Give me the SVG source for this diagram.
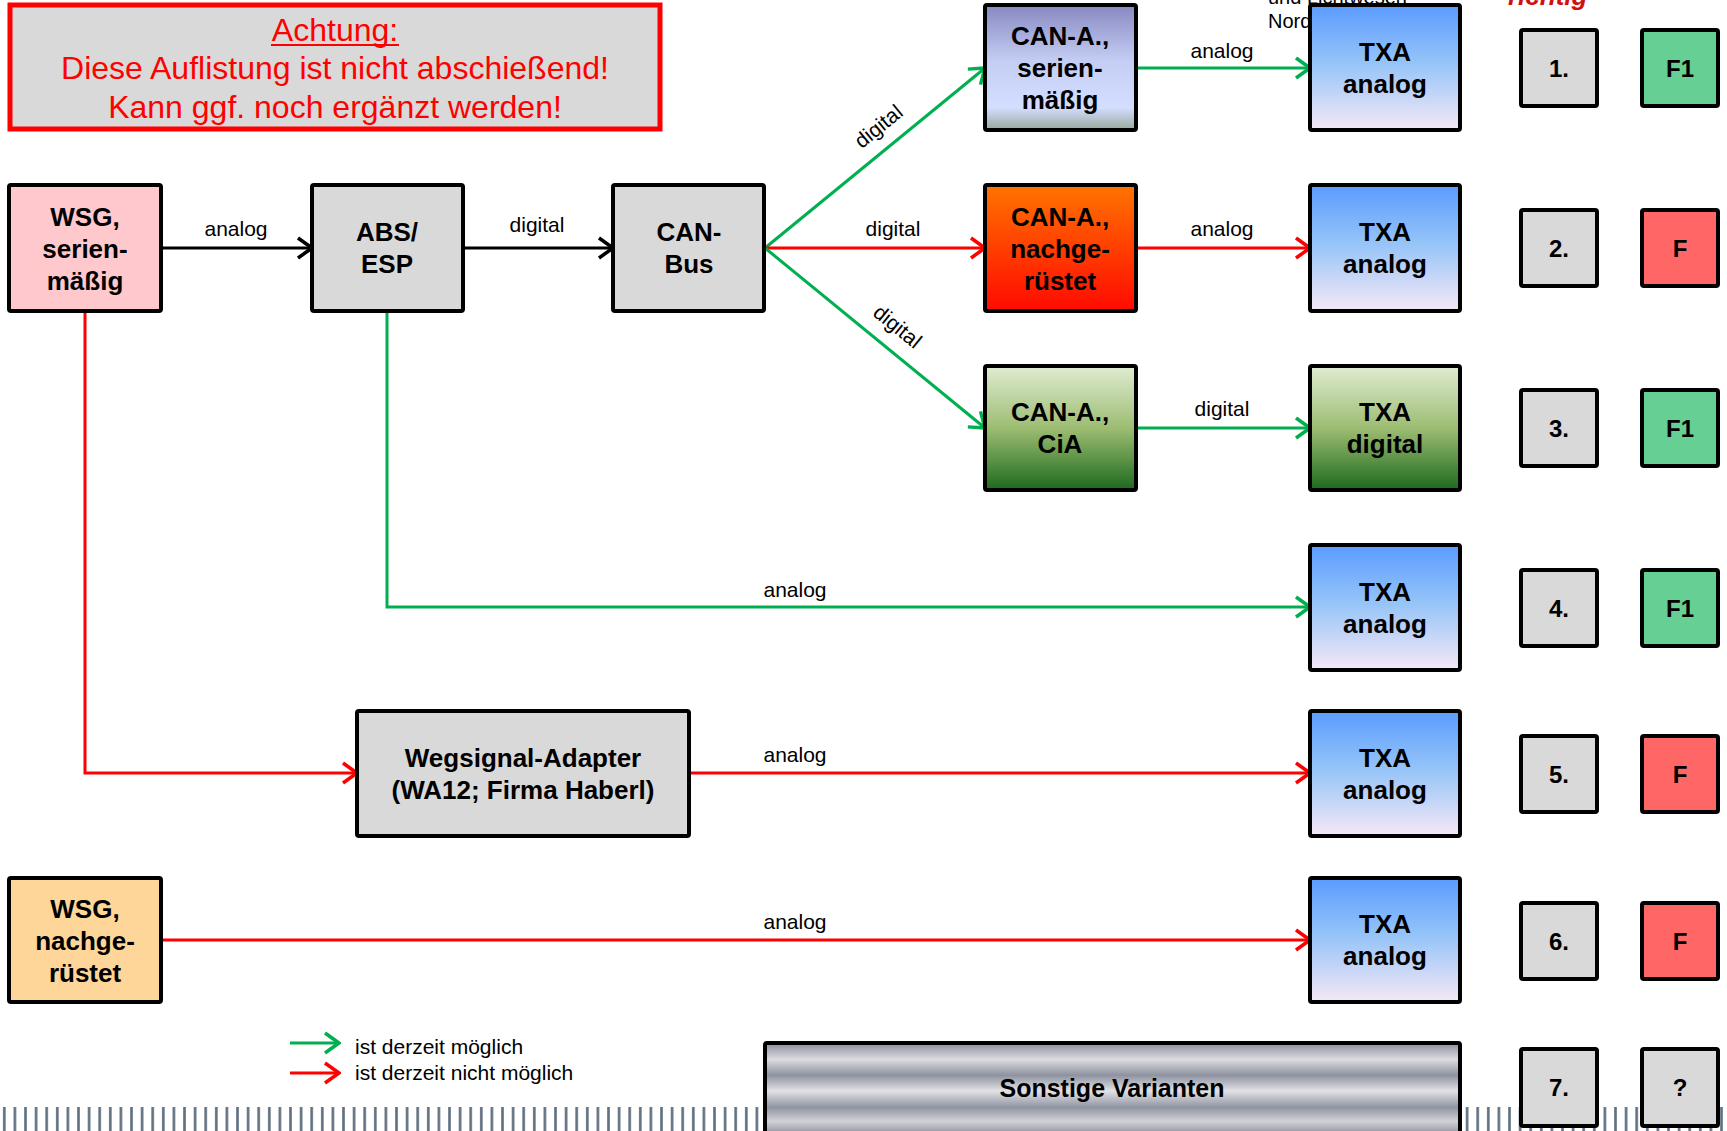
<svg xmlns="http://www.w3.org/2000/svg" width="1727" height="1131" viewBox="0 0 1727 1131">
<defs>
<style>
.box{stroke:#000;stroke-width:4}
.nt{font-family:"Liberation Sans",Arial,sans-serif;font-weight:bold;font-size:26px;text-anchor:middle;fill:#000}
.lbl{font-family:"Liberation Sans",Arial,sans-serif;font-size:21px;text-anchor:middle;fill:#000}
.leg{font-family:"Liberation Sans",Arial,sans-serif;font-size:21px;fill:#000}
.warn{font-family:"Liberation Sans",Arial,sans-serif;font-size:32px;text-anchor:middle;fill:#ff0000}
.g{stroke:#00b050;stroke-width:3;fill:none}
.r{stroke:#ff0000;stroke-width:3;fill:none}
.k{stroke:#000;stroke-width:3;fill:none}
</style>
<marker id="ag" markerUnits="userSpaceOnUse" markerWidth="18" markerHeight="24" viewBox="0 0 18 24" refX="16" refY="12" orient="auto"><path d="M2,2 L16,12 L2,22" fill="none" stroke="#00b050" stroke-width="3.5"/></marker>
<marker id="ar" markerUnits="userSpaceOnUse" markerWidth="18" markerHeight="24" viewBox="0 0 18 24" refX="16" refY="12" orient="auto"><path d="M2,2 L16,12 L2,22" fill="none" stroke="#ff0000" stroke-width="3.5"/></marker>
<marker id="ak" markerUnits="userSpaceOnUse" markerWidth="18" markerHeight="24" viewBox="0 0 18 24" refX="16" refY="12" orient="auto"><path d="M2,2 L16,12 L2,22" fill="none" stroke="#000" stroke-width="3.5"/></marker>
<linearGradient id="gTxa" x1="0" y1="0" x2="0" y2="1"><stop offset="0" stop-color="#5b9bff"/><stop offset="0.45" stop-color="#93c3f8"/><stop offset="1" stop-color="#f6e8f6"/></linearGradient>
<linearGradient id="gGreen" x1="0" y1="0" x2="0" y2="1"><stop offset="0" stop-color="#e0ecd2"/><stop offset="0.5" stop-color="#9dbd72"/><stop offset="1" stop-color="#1d6a1d"/></linearGradient>
<linearGradient id="gOrange" x1="0" y1="0" x2="0" y2="1"><stop offset="0" stop-color="#ff7400"/><stop offset="1" stop-color="#ff0a00"/></linearGradient>
<linearGradient id="gSer" x1="0" y1="0" x2="0" y2="1"><stop offset="0" stop-color="#8888c0"/><stop offset="0.45" stop-color="#c4cef5"/><stop offset="0.82" stop-color="#d4deff"/><stop offset="1" stop-color="#98a89c"/></linearGradient>
<linearGradient id="gMetal" x1="0" y1="0" x2="0" y2="1"><stop offset="0" stop-color="#8a8e9c"/><stop offset="0.18" stop-color="#dcdce0"/><stop offset="0.35" stop-color="#8e92a0"/><stop offset="0.52" stop-color="#e2e2e6"/><stop offset="0.7" stop-color="#9094a2"/><stop offset="0.85" stop-color="#d2d2d8"/><stop offset="1" stop-color="#8a8e9c"/></linearGradient>
<pattern id="stripes" patternUnits="userSpaceOnUse" x="0" y="1107" width="10.6" height="24"><rect x="3" y="0" width="2.6" height="24" fill="#5f6f80"/></pattern>
</defs>
<rect x="0" y="0" width="1727" height="1131" fill="#fff"/>
<rect x="0" y="1107" width="1727" height="24" fill="url(#stripes)"/>
<g id="fragments">
<text x="1268" y="4" class="leg" style="font-size:20px">und Lichtwesen</text>
<text x="1268" y="28" class="leg" style="font-size:20px">Nord</text>
<text x="1508" y="5" style="font-family:'Liberation Sans',sans-serif;font-style:italic;font-weight:bold;font-size:26px;fill:#d01010">richtig</text>
</g>
<g id="warning">
<rect x="10" y="5" width="650" height="124" fill="#d9d9d9" stroke="#ff0000" stroke-width="5"/>
<text x="335" y="41" class="warn">Achtung:</text>
<line x1="271" y1="45" x2="399" y2="45" stroke="#ff0000" stroke-width="2"/>
<text x="335" y="79" class="warn">Diese Auflistung ist nicht abschießend!</text>
<text x="335" y="118" class="warn">Kann ggf. noch ergänzt werden!</text>
</g>
<g id="connectors">
<line x1="161" y1="248" x2="312" y2="248" class="k" marker-end="url(#ak)"/>
<text x="236" y="236" class="lbl">analog</text>
<line x1="463" y1="248" x2="613" y2="248" class="k" marker-end="url(#ak)"/>
<text x="537" y="232" class="lbl">digital</text>
<line x1="765" y1="248" x2="985" y2="68" class="g" marker-end="url(#ag)"/>
<text x="0" y="0" class="lbl" transform="translate(883,132) rotate(-39.2)">digital</text>
<line x1="765" y1="248" x2="985" y2="248" class="r" marker-end="url(#ar)"/>
<text x="893" y="236" class="lbl">digital</text>
<line x1="765" y1="248" x2="985" y2="428" class="g" marker-end="url(#ag)"/>
<text x="0" y="0" class="lbl" transform="translate(893,332) rotate(39.2)">digital</text>
<line x1="1136" y1="68" x2="1310" y2="68" class="g" marker-end="url(#ag)"/>
<text x="1222" y="58" class="lbl">analog</text>
<line x1="1136" y1="248" x2="1310" y2="248" class="r" marker-end="url(#ar)"/>
<text x="1222" y="236" class="lbl">analog</text>
<line x1="1136" y1="428" x2="1310" y2="428" class="g" marker-end="url(#ag)"/>
<text x="1222" y="416" class="lbl">digital</text>
<polyline points="387,311 387,607 1310,607" class="g" marker-end="url(#ag)"/>
<text x="795" y="597" class="lbl">analog</text>
<polyline points="85,311 85,773 357,773" class="r" marker-end="url(#ar)"/>
<line x1="689" y1="773" x2="1310" y2="773" class="r" marker-end="url(#ar)"/>
<text x="795" y="762" class="lbl">analog</text>
<line x1="161" y1="940" x2="1310" y2="940" class="r" marker-end="url(#ar)"/>
<text x="795" y="929" class="lbl">analog</text>
</g>
<g id="wsg-serie"><rect x="9" y="185" width="152" height="126" rx="2" fill="#ffc8cc" class="box"/><text x="85" y="226" class="nt">WSG,</text><text x="85" y="258" class="nt">serien-</text><text x="85" y="290" class="nt">mäßig</text></g>
<g id="abs-esp"><rect x="312" y="185" width="151" height="126" rx="2" fill="#d9d9d9" class="box"/><text x="387" y="241" class="nt">ABS/</text><text x="387" y="273" class="nt">ESP</text></g>
<g id="can-bus"><rect x="613" y="185" width="151" height="126" rx="2" fill="#d9d9d9" class="box"/><text x="689" y="241" class="nt">CAN-</text><text x="689" y="273" class="nt">Bus</text></g>
<g id="can-serie"><rect x="985" y="5" width="151" height="125" rx="2" fill="url(#gSer)" class="box"/><text x="1060" y="45" class="nt">CAN-A.,</text><text x="1060" y="77" class="nt">serien-</text><text x="1060" y="109" class="nt">mäßig</text></g>
<g id="can-nach"><rect x="985" y="185" width="151" height="126" rx="2" fill="url(#gOrange)" class="box"/><text x="1060" y="226" class="nt">CAN-A.,</text><text x="1060" y="258" class="nt">nachge-</text><text x="1060" y="290" class="nt">rüstet</text></g>
<g id="can-cia"><rect x="985" y="366" width="151" height="124" rx="2" fill="url(#gGreen)" class="box"/><text x="1060" y="421" class="nt">CAN-A.,</text><text x="1060" y="453" class="nt">CiA</text></g>
<g id="txa1"><rect x="1310" y="5" width="150" height="125" rx="2" fill="url(#gTxa)" class="box"/><text x="1385" y="61" class="nt">TXA</text><text x="1385" y="93" class="nt">analog</text></g>
<g id="txa2"><rect x="1310" y="185" width="150" height="126" rx="2" fill="url(#gTxa)" class="box"/><text x="1385" y="241" class="nt">TXA</text><text x="1385" y="273" class="nt">analog</text></g>
<g id="txa3"><rect x="1310" y="366" width="150" height="124" rx="2" fill="url(#gGreen)" class="box"/><text x="1385" y="421" class="nt">TXA</text><text x="1385" y="453" class="nt">digital</text></g>
<g id="txa4"><rect x="1310" y="545" width="150" height="125" rx="2" fill="url(#gTxa)" class="box"/><text x="1385" y="601" class="nt">TXA</text><text x="1385" y="633" class="nt">analog</text></g>
<g id="txa5"><rect x="1310" y="711" width="150" height="125" rx="2" fill="url(#gTxa)" class="box"/><text x="1385" y="767" class="nt">TXA</text><text x="1385" y="799" class="nt">analog</text></g>
<g id="txa6"><rect x="1310" y="878" width="150" height="124" rx="2" fill="url(#gTxa)" class="box"/><text x="1385" y="933" class="nt">TXA</text><text x="1385" y="965" class="nt">analog</text></g>
<g id="wegsignal"><rect x="357" y="711" width="332" height="125" rx="2" fill="#d9d9d9" class="box"/><text x="523" y="767" class="nt">Wegsignal-Adapter</text><text x="523" y="799" class="nt">(WA12; Firma Haberl)</text></g>
<g id="wsg-nach"><rect x="9" y="878" width="152" height="124" rx="2" fill="#ffd699" class="box"/><text x="85" y="918" class="nt">WSG,</text><text x="85" y="950" class="nt">nachge-</text><text x="85" y="982" class="nt">rüstet</text></g>
<g id="sonstige"><rect x="765" y="1043" width="695" height="92" rx="2" fill="url(#gMetal)" class="box"/><text x="1112" y="1097" class="nt" style="font-size:25px">Sonstige Varianten</text></g>
<g id="num1"><rect x="1521" y="30" width="76" height="76" rx="2" fill="#d9d9d9" class="box"/><text x="1559" y="77" class="nt" style="font-size:24px">1.</text></g>
<g id="num2"><rect x="1521" y="210" width="76" height="76" rx="2" fill="#d9d9d9" class="box"/><text x="1559" y="257" class="nt" style="font-size:24px">2.</text></g>
<g id="num3"><rect x="1521" y="390" width="76" height="76" rx="2" fill="#d9d9d9" class="box"/><text x="1559" y="437" class="nt" style="font-size:24px">3.</text></g>
<g id="num4"><rect x="1521" y="570" width="76" height="76" rx="2" fill="#d9d9d9" class="box"/><text x="1559" y="617" class="nt" style="font-size:24px">4.</text></g>
<g id="num5"><rect x="1521" y="736" width="76" height="76" rx="2" fill="#d9d9d9" class="box"/><text x="1559" y="783" class="nt" style="font-size:24px">5.</text></g>
<g id="num6"><rect x="1521" y="903" width="76" height="76" rx="2" fill="#d9d9d9" class="box"/><text x="1559" y="950" class="nt" style="font-size:24px">6.</text></g>
<g id="num7"><rect x="1521" y="1049" width="76" height="77" rx="2" fill="#d9d9d9" class="box"/><text x="1559" y="1096" class="nt" style="font-size:24px">7.</text></g>
<g id="f1"><rect x="1642" y="30" width="76" height="76" rx="2" fill="#66cf93" class="box"/><text x="1680" y="77" class="nt" style="font-size:24px">F1</text></g>
<g id="f2"><rect x="1642" y="210" width="76" height="76" rx="2" fill="#ff6666" class="box"/><text x="1680" y="257" class="nt" style="font-size:24px">F</text></g>
<g id="f3"><rect x="1642" y="390" width="76" height="76" rx="2" fill="#66cf93" class="box"/><text x="1680" y="437" class="nt" style="font-size:24px">F1</text></g>
<g id="f4"><rect x="1642" y="570" width="76" height="76" rx="2" fill="#66cf93" class="box"/><text x="1680" y="617" class="nt" style="font-size:24px">F1</text></g>
<g id="f5"><rect x="1642" y="736" width="76" height="76" rx="2" fill="#ff6666" class="box"/><text x="1680" y="783" class="nt" style="font-size:24px">F</text></g>
<g id="f6"><rect x="1642" y="903" width="76" height="76" rx="2" fill="#ff6666" class="box"/><text x="1680" y="950" class="nt" style="font-size:24px">F</text></g>
<g id="f7"><rect x="1642" y="1049" width="76" height="77" rx="2" fill="#d9d9d9" class="box"/><text x="1680" y="1096" class="nt" style="font-size:24px">?</text></g>
<g id="legend">
<line x1="290" y1="1043" x2="339" y2="1043" class="g" marker-end="url(#ag)"/>
<text x="355" y="1054" class="leg">ist derzeit möglich</text>
<line x1="290" y1="1073" x2="339" y2="1073" class="r" marker-end="url(#ar)"/>
<text x="355" y="1080" class="leg">ist derzeit nicht möglich</text>
</g>
</svg>
